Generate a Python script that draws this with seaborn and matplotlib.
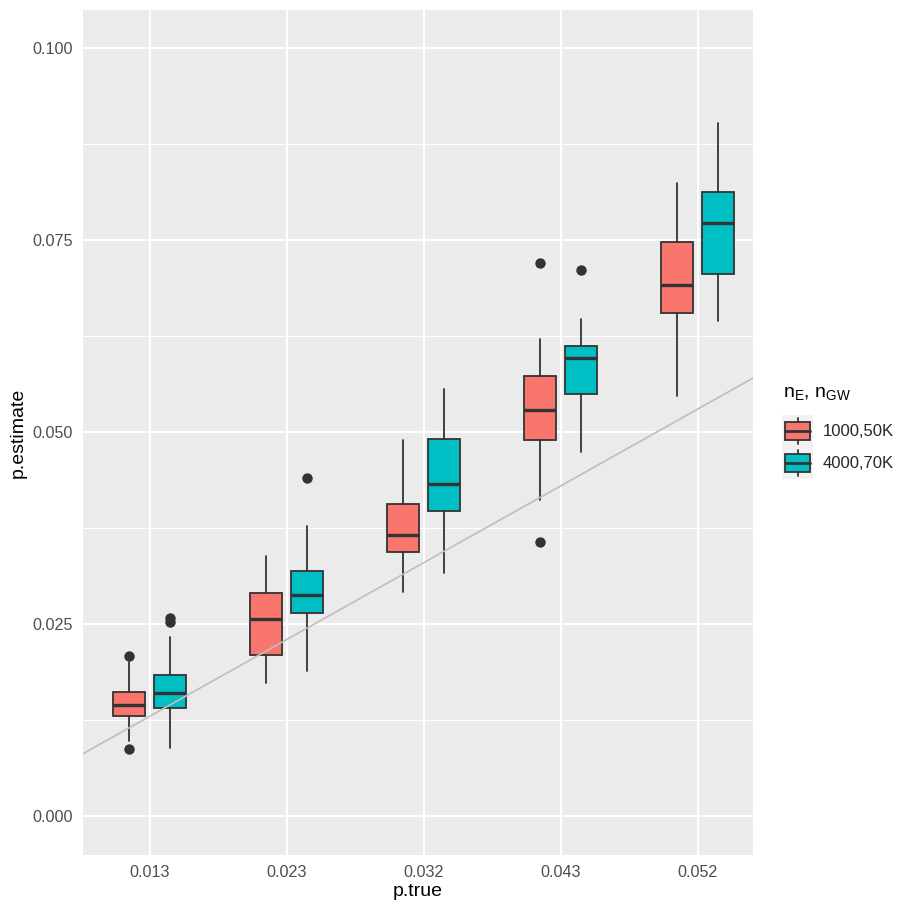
import matplotlib
matplotlib.use('Agg')
import matplotlib.pyplot as plt
import seaborn as sns
from matplotlib.legend_handler import HandlerBase
from matplotlib.patches import Rectangle
from matplotlib.lines import Line2D
from matplotlib.ticker import MultipleLocator, FormatStrFormatter

# p.true categories and the two (n_E, n_GW) settings
p_true = ['0.013', '0.023', '0.032', '0.043', '0.052']
groups = ['1000,50K', '4000,70K']
colors = ['#F8766D', '#00BFC4']

# box summaries: whisker low, q1, median, q3, whisker high, outliers
red_whislo = [0.0097, 0.0173, 0.0292, 0.0412, 0.0547]
red_q1 = [0.0130, 0.0210, 0.0344, 0.0490, 0.0655]
red_med = [0.0144, 0.0257, 0.0366, 0.0529, 0.0692]
red_q3 = [0.0161, 0.0290, 0.0406, 0.0573, 0.0747]
red_whishi = [0.0200, 0.0338, 0.0490, 0.0621, 0.0824]
red_fliers = [[0.0087, 0.0208], [], [], [0.0357, 0.0720], []]

teal_whislo = [0.0088, 0.0189, 0.0317, 0.0474, 0.0645]
teal_q1 = [0.0140, 0.0264, 0.0397, 0.0550, 0.0706]
teal_med = [0.0160, 0.0288, 0.0432, 0.0597, 0.0772]
teal_q3 = [0.0184, 0.0319, 0.0491, 0.0612, 0.0812]
teal_whishi = [0.0233, 0.0377, 0.0556, 0.0647, 0.0903]
teal_fliers = [[0.0252, 0.0258], [0.0440], [], [0.0711], []]

# reference line p.estimate = p.true (in category position units)
line_intercept = 0.013
line_slope = 0.010

dark = '#333333'

sns.set_theme(style='darkgrid', rc={
    'axes.facecolor': '#EBEBEB',
    'grid.color': 'white',
    'axes.edgecolor': 'none',
    'xtick.color': dark,
    'ytick.color': dark,
    'xtick.labelcolor': '#4D4D4D',
    'ytick.labelcolor': '#4D4D4D',
})
plt.rcParams['font.family'] = ['Liberation Sans', 'DejaVu Sans']


def make_stats(lo, q1, med, q3, hi, fl):
    return [dict(whislo=lo[i], q1=q1[i], med=med[i], q3=q3[i], whishi=hi[i], fliers=fl[i])
            for i in range(len(lo))]


fig = plt.figure(figsize=(9.13, 9.13), dpi=100)
ax = fig.add_axes([83 / 913, 1 - 855 / 913, (752.7 - 83) / 913, (855 - 10) / 913])

series = [
    make_stats(red_whislo, red_q1, red_med, red_q3, red_whishi, red_fliers),
    make_stats(teal_whislo, teal_q1, teal_med, teal_q3, teal_whishi, teal_fliers),
]
offsets = [-0.153, 0.147]
for stats, off, col in zip(series, offsets, colors):
    ax.bxp(stats, positions=[i + off for i in range(len(p_true))], widths=0.234,
           patch_artist=True, showcaps=False,
           boxprops=dict(facecolor=col, edgecolor=dark, linewidth=1.3),
           medianprops=dict(color=dark, linewidth=2.4),
           whiskerprops=dict(color=dark, linewidth=1.3),
           flierprops=dict(marker='o', markerfacecolor=dark, markeredgecolor='none', markersize=7.5),
           manage_ticks=False, zorder=3)

ax.axline((0, line_intercept), slope=line_slope, color='#BEBEBE', linewidth=1.2, zorder=4)

ax.set_xlim(-0.489, 4.40)
ax.set_ylim(-0.00508, 0.10495)
ax.set_xticks(range(len(p_true)))
ax.set_xticklabels(p_true)
ax.yaxis.set_major_locator(MultipleLocator(0.025))
ax.yaxis.set_minor_locator(MultipleLocator(0.0125))
ax.yaxis.set_major_formatter(FormatStrFormatter('%.3f'))
ax.grid(which='major', color='white', linewidth=1.4)
ax.grid(which='minor', axis='y', color='white', linewidth=0.7)
ax.tick_params(which='major', length=3.6, width=1.1, pad=3.6, labelsize=11.6)
ax.tick_params(which='minor', length=0)
ax.tick_params(axis='x', which='minor', bottom=False)
ax.set_axisbelow(True)
ax.set_xlabel('p.true', fontsize=14, color='black', labelpad=2)
ax.set_ylabel('p.estimate', fontsize=14, color='black', labelpad=4)


class BoxKey(HandlerBase):
    def create_artists(self, legend, orig, xd, yd, w, h, fontsize, trans):
        x0, y0 = -xd, -yd
        bg = Rectangle((x0, y0), w, h, facecolor='#F2F2F2', edgecolor='none', transform=trans)
        cx = x0 + w / 2
        wl = Line2D([cx, cx], [y0 + h * 0.1, y0 + h * 0.9], color=dark, linewidth=1.3, transform=trans)
        box = Rectangle((x0 + w * 0.1, y0 + h * 0.22), w * 0.8, h * 0.56,
                        facecolor=orig.get_facecolor(), edgecolor=dark, linewidth=1.3, transform=trans)
        md = Line2D([x0 + w * 0.1, x0 + w * 0.9], [y0 + h / 2, y0 + h / 2], color=dark,
                    linewidth=2.0, transform=trans)
        return [bg, wl, box, md]


handles = [Rectangle((0, 0), 1, 1, facecolor=c) for c in colors]
fig.text(783 / 913, 1 - 393 / 913, r'$\mathregular{n_E}$, $\mathregular{n_{GW}}$',
         fontsize=14, ha='left', va='center', color='black')
fs = 12.0
leg = fig.legend(handles, groups, handler_map={Rectangle: BoxKey()},
                 loc='upper left', bbox_to_anchor=(782 / 913, 1 - 415 / 913),
                 frameon=False, fontsize=fs, handlelength=31 / (fs * 100 / 72),
                 handleheight=2.75 * 11.2 / fs,
                 handletextpad=10 / (fs * 100 / 72), labelspacing=0.0, borderpad=0.0, borderaxespad=0.0)

fig.savefig('out.png', dpi=100)
